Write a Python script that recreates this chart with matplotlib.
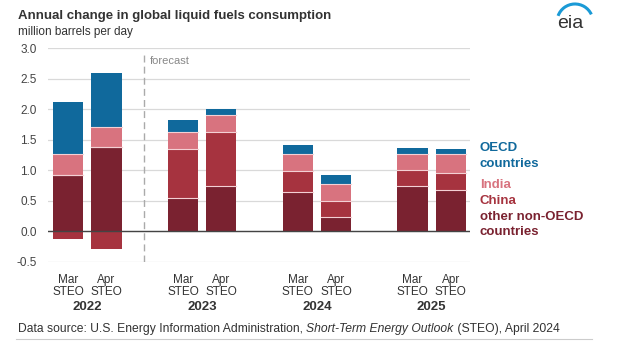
import matplotlib
matplotlib.use("Agg")
import matplotlib.pyplot as plt
import numpy as np
from matplotlib.patches import Arc

plt.rcParams['font.family'] = ['Liberation Sans', 'DejaVu Sans']

years = ["2022", "2023", "2024", "2025"]
editions = ["Mar\nSTEO", "Apr\nSTEO"]
# order: 2022 Mar, 2022 Apr, 2023 Mar, 2023 Apr, 2024 Mar, 2024 Apr, 2025 Mar, 2025 Apr
other_nonoecd = [0.93, 1.38, 0.55, 0.74, 0.65, 0.23, 0.75, 0.68]
china = [-0.12, -0.29, 0.79, 0.89, 0.33, 0.26, 0.25, 0.28]
india = [0.34, 0.33, 0.29, 0.28, 0.28, 0.28, 0.26, 0.30]
oecd = [0.85, 0.88, 0.20, 0.10, 0.16, 0.16, 0.11, 0.08]

c_oecd = "#10699c"
c_india = "#d8737f"
c_china = "#a6333f"
c_other = "#7a2230"

positions = [0, 1, 3, 4, 6, 7, 9, 10]

fig = plt.figure(figsize=(6.24, 3.53), dpi=100)
ax = fig.add_axes([0.077, 0.258, 0.676, 0.606])

w = 0.79
other = np.array(other_nonoecd)
ch = np.array(china)
ind = np.array(india)
oe = np.array(oecd)
pos_ch = np.where(ch > 0, ch, 0)
neg_ch = np.where(ch < 0, ch, 0)

ax.bar(positions, other, width=w, color=c_other, zorder=3)
ax.bar(positions, pos_ch, bottom=other, width=w, color=c_china, zorder=3)
ax.bar(positions, neg_ch, bottom=0, width=w, color=c_china, zorder=3)
b2 = other + pos_ch
ax.bar(positions, ind, bottom=b2, width=w, color=c_india, zorder=3)
b3 = b2 + ind
ax.bar(positions, oe, bottom=b3, width=w, color=c_oecd, zorder=3)

# thin separator lines between segments
for p, y1, y2, y3 in zip(positions, other, b2, b3):
    for yy in (y1, y2, y3):
        ax.plot([p - w / 2, p + w / 2], [yy, yy], color="#f4d0d4", lw=0.8, zorder=4)

ax.set_xlim(-0.53, 10.5)
ax.set_ylim(-0.5, 3.0)
ax.set_yticks(np.arange(-0.5, 3.01, 0.5))
ax.set_yticklabels([f"{v:.1f}" for v in np.arange(-0.5, 3.01, 0.5)], fontsize=8.5, color="#444444")
ax.yaxis.grid(True, color="#d9d9d9", lw=0.9, zorder=0)
ax.tick_params(axis='y', length=0, pad=8)
ax.set_xticks(positions)
ax.set_xticklabels(editions * 4, fontsize=8.5, color="#333333", linespacing=1.0)
ax.tick_params(axis='x', length=0, pad=9)
for s in ax.spines.values():
    s.set_visible(False)
ax.axhline(0, color="#444444", lw=1.0, zorder=5)

# forecast divider
ax.plot([1.97, 1.97], [-0.5, 2.93], color="#aaaaaa", lw=1.0, ls=(0, (5, 3)), zorder=2)
ax.text(2.12, 2.79, "forecast", fontsize=8, color="#888888", va="center", ha="left")

# year labels
for i, y in enumerate(years):
    ax.text(positions[2 * i] + 0.5, -1.23, y, fontsize=9.5, fontweight="bold",
            color="#333333", ha="center", va="center", transform=ax.transData, clip_on=False)

# legend labels
lx = 480 / 624
fig.text(lx, 1 - 148 / 353, "OECD", color=c_oecd, fontsize=9.5, fontweight="bold", va="center")
fig.text(lx, 1 - 164 / 353, "countries", color=c_oecd, fontsize=9.5, fontweight="bold", va="center")
fig.text(lx, 1 - 185 / 353, "India", color=c_india, fontsize=9.5, fontweight="bold", va="center")
fig.text(lx, 1 - 201 / 353, "China", color=c_china, fontsize=9.5, fontweight="bold", va="center")
fig.text(lx, 1 - 217 / 353, "other non-OECD", color=c_other, fontsize=9.5, fontweight="bold", va="center")
fig.text(lx, 1 - 232 / 353, "countries", color=c_other, fontsize=9.5, fontweight="bold", va="center")

# title
fig.text(18 / 624, 1 - 16 / 353, "Annual change in global liquid fuels consumption",
         fontsize=9.5, fontweight="bold", color="#333333", va="center")
fig.text(18 / 624, 1 - 32 / 353, "million barrels per day", fontsize=8.5, color="#333333", va="center")

# source
sy = 1 - 329 / 353
fs = 8.7
t1 = fig.text(18 / 624, sy, "Data source: U.S. Energy Information Administration, ",
              fontsize=fs, color="#333333", va="center")
fig.canvas.draw()
r = fig.canvas.get_renderer()
bb = t1.get_window_extent(r)
t2 = fig.text(bb.x1 / fig.bbox.width, sy, "Short-Term Energy Outlook", fontsize=fs, style="italic",
              color="#333333", va="center")
bb2 = t2.get_window_extent(r)
fig.text(bb2.x1 / fig.bbox.width, sy, " (STEO), April 2024", fontsize=fs,
         color="#333333", va="center")
fig.add_artist(plt.Line2D([16 / 624, 592 / 624], [1 - 339 / 353, 1 - 339 / 353],
                          color="#cccccc", lw=0.8))

# eia logo
lax = fig.add_axes([540 / 624, 1 - 45 / 353, 84 / 624, 45 / 353])
lax.set_xlim(540, 624)
lax.set_ylim(0, 45)
lax.axis("off")
lax.text(570, 45 - 24, "eia", fontsize=14, color="#333333", ha="center", va="center")
arc = Arc((575, 45 - 22), 36, 36, theta1=25, theta2=160, color="#1a9ad6", lw=2.2)
lax.add_patch(arc)

fig.savefig("out.png", dpi=100)
